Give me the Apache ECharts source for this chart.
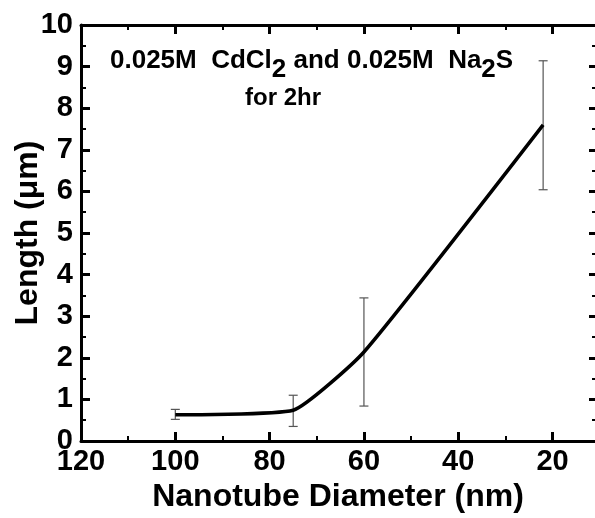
<!DOCTYPE html>
<html>
<head>
<meta charset="utf-8">
<script src="https://cdn.jsdelivr.net/npm/echarts@6/dist/echarts.min.js"></script>
<style>
  html, body { margin: 0; padding: 0; background: #fff; }
  #chart { width: 595px; height: 518px; }
</style>
</head>
<body>
<div id="chart"></div>
<script>
// nanotube diameter (nm) vs mean length (um)
const diameters = [100, 75, 60, 22]
const lengths = [0.63, 0.74, 2.14, 7.6]
const errLow = [0.52, 0.35, 0.84, 6.04]
const errHigh = [0.76, 1.1, 3.44, 9.14]

const xMajor = [20, 40, 60, 80, 100, 120]
const xMinor = [30, 50, 70, 90, 110]

const FONT = '"Liberation Sans", Arial, sans-serif'
const INK = '#000'

const lineData = diameters.map((d, i) => [d, lengths[i]])
const errData = diameters.map((d, i) => [d, errLow[i], errHigh[i]])

// the original is cropped just before its right frame, so the axis stops at ~11
const xBase = {
  type: 'value',
  inverse: true,
  min: 11,
  max: 120,
  gridIndex: 0,
  splitLine: { show: false },
}

const chart = echarts.init(document.getElementById('chart'))
chart.setOption({
  animation: false,
  grid: { left: 81, right: 0, top: 25, bottom: 77, containLabel: false, outerBoundsMode: 'none' },
  xAxis: [
    {
      ...xBase,
      position: 'bottom',
      name: 'Nanotube Diameter (nm)',
      nameLocation: 'middle',
      nameGap: 40,
      nameMoveOverlap: false,
      nameTextStyle: { fontFamily: FONT, fontWeight: 'bold', fontSize: 32, color: INK },
      axisLine: { show: true, lineStyle: { color: INK, width: 3 } },
      axisTick: { show: true, inside: true, length: 9, customValues: xMajor, lineStyle: { color: INK, width: 3 } },
      axisLabel: { show: true, customValues: xMajor, margin: 6, fontFamily: FONT, fontWeight: 'bold', fontSize: 29, color: INK },
    },
    {
      ...xBase,
      position: 'bottom',
      axisLine: { show: false },
      axisTick: { show: true, inside: true, length: 5, customValues: xMinor, lineStyle: { color: INK, width: 2 } },
      axisLabel: { show: false },
    },
    {
      ...xBase,
      position: 'top',
      axisLine: { show: true, lineStyle: { color: INK, width: 3 } },
      axisTick: { show: true, inside: true, length: 9, customValues: xMajor, lineStyle: { color: INK, width: 3 } },
      axisLabel: { show: false },
    },
    {
      ...xBase,
      position: 'top',
      axisLine: { show: false },
      axisTick: { show: true, inside: true, length: 5, customValues: xMinor, lineStyle: { color: INK, width: 2 } },
      axisLabel: { show: false },
    },
  ],
  yAxis: [
    {
      type: 'value',
      position: 'left',
      min: 0,
      max: 10,
      interval: 1,
      name: 'Length (\u03bcm)',
      nameLocation: 'middle',
      nameGap: 37,
      nameMoveOverlap: false,
      nameTextStyle: { fontFamily: FONT, fontWeight: 'bold', fontSize: 32, color: INK },
      splitLine: { show: false },
      axisLine: { show: true, lineStyle: { color: INK, width: 3 } },
      axisTick: { show: true, inside: true, length: 9, lineStyle: { color: INK, width: 3 } },
      minorTick: { show: true, splitNumber: 2, length: 5, lineStyle: { color: INK, width: 2 } },
      axisLabel: { margin: 8, fontFamily: FONT, fontWeight: 'bold', fontSize: 29, color: INK },
    },
    {
      // right frame itself falls outside the picture, only its inner ticks show
      type: 'value',
      position: 'right',
      min: 0,
      max: 10,
      interval: 1,
      splitLine: { show: false },
      axisLine: { show: false },
      axisTick: { show: true, inside: true, length: 6, lineStyle: { color: INK, width: 3 } },
      minorTick: { show: true, splitNumber: 2, length: 3, lineStyle: { color: INK, width: 2 } },
      axisLabel: { show: false },
    },
  ],
  series: [
    {
      type: 'line',
      data: lineData,
      smooth: 0.15,
      showSymbol: false,
      lineStyle: { color: INK, width: 3.5 },
      z: 3,
    },
    {
      type: 'custom',
      data: errData,
      z: 2,
      renderItem: (params, api) => {
        const lo = api.coord([api.value(0), api.value(1)])
        const hi = api.coord([api.value(0), api.value(2)])
        const cap = 4.5
        const style = { stroke: '#555', lineWidth: 1.2 }
        return {
          type: 'group',
          children: [
            { type: 'line', shape: { x1: lo[0], y1: lo[1], x2: hi[0], y2: hi[1] }, style },
            { type: 'line', shape: { x1: lo[0] - cap, y1: lo[1], x2: lo[0] + cap, y2: lo[1] }, style },
            { type: 'line', shape: { x1: hi[0] - cap, y1: hi[1], x2: hi[0] + cap, y2: hi[1] }, style },
          ],
        }
      },
    },
  ],
  graphic: [
    {
      type: 'text',
      left: 110,
      top: 48,
      style: {
        text: '{a|0.025M  CdCl}{s|2}{a| and 0.025M  Na}{s|2}{a|S}',
        rich: {
          a: { fontFamily: FONT, fontWeight: 'bold', fontSize: 26, fill: INK },
          s: { fontFamily: FONT, fontWeight: 'bold', fontSize: 26, fill: INK, padding: [18, 0, 0, 0] },
        },
      },
    },
    {
      type: 'text',
      left: 245,
      top: 86,
      style: { text: 'for 2hr', fontFamily: FONT, fontWeight: 'bold', fontSize: 24, fill: INK },
    },
  ],
})
</script>
</body>
</html>
